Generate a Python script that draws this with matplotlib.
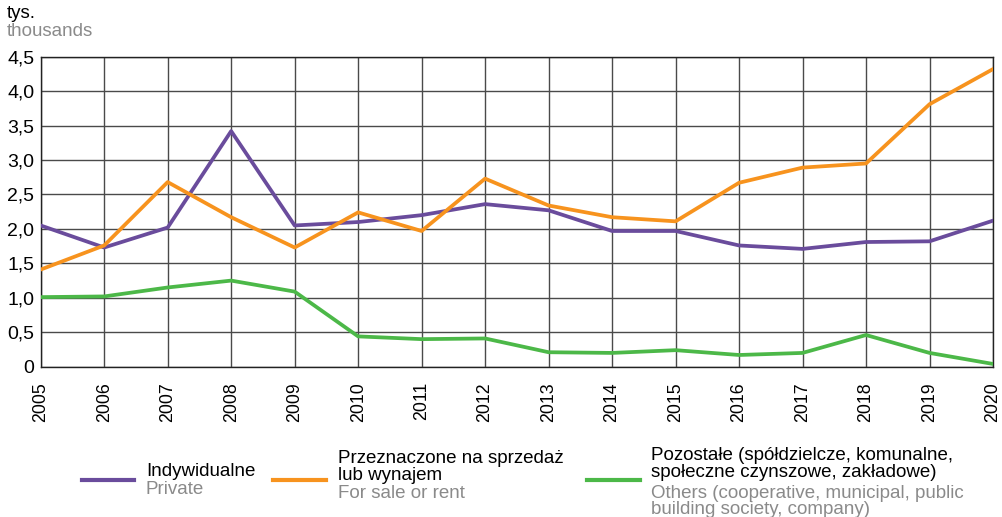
import matplotlib
matplotlib.use('Agg')
import matplotlib.pyplot as plt
from matplotlib.lines import Line2D

years = list(range(2005, 2021))
individual = [2.05, 1.73, 2.02, 3.42, 2.05, 2.10, 2.20, 2.36, 2.27, 1.97, 1.97, 1.76, 1.71, 1.81, 1.82, 2.12]
for_sale = [1.41, 1.76, 2.68, 2.17, 1.73, 2.24, 1.97, 2.73, 2.34, 2.17, 2.11, 2.67, 2.89, 2.95, 3.81, 4.32]
others = [1.01, 1.02, 1.15, 1.25, 1.09, 0.44, 0.40, 0.41, 0.21, 0.20, 0.24, 0.17, 0.20, 0.46, 0.20, 0.04]

y_ticks = [0, 0.5, 1.0, 1.5, 2.0, 2.5, 3.0, 3.5, 4.0, 4.5]
y_labels = ['0', '0,5', '1,0', '1,5', '2,0', '2,5', '3,0', '3,5', '4,0', '4,5']

purple = '#6a4c9c'
orange = '#f7931e'
green = '#4cb848'
grey_txt = '#8a8a8a'
fs = 13.5

plt.rcParams['font.family'] = ['Liberation Sans', 'DejaVu Sans']

W, H = 1003, 517
fig = plt.figure(figsize=(W / 100, H / 100), dpi=100)
ax = fig.add_axes([40.7 / W, 1 - 366.7 / H, (993 - 40.7) / W, (366.7 - 56.7) / H])

ax.plot(years, individual, color=purple, lw=2.7, zorder=3)
ax.plot(years, for_sale, color=orange, lw=2.7, zorder=3)
ax.plot(years, others, color=green, lw=2.7, zorder=3)

ax.set_xlim(2005, 2020)
ax.set_ylim(0, 4.5)
ax.set_xticks(years)
ax.set_xticklabels([str(y) for y in years], rotation=90, fontsize=12.8)
ax.set_yticks(y_ticks)
ax.set_yticklabels(y_labels, fontsize=14)
ax.tick_params(axis='x', length=0, pad=11)
ax.tick_params(axis='y', length=0, pad=4.5)
ax.grid(True, color='#4a4a4a', lw=1)
for s in ax.spines.values():
    s.set_color('#222222')
    s.set_linewidth(1)

# unit label
fig.text(7 / W, 1 - 18 / H, 'tys.', fontsize=fs, va='baseline', ha='left')
fig.text(7 / W, 1 - 36 / H, 'thousands', fontsize=fs, va='baseline', ha='left', color=grey_txt)

# legend, drawn by hand (two-language labels)
def legend_item(x0, x1, tx, col, lines):
    fig.add_artist(Line2D([x0 / W, x1 / W], [1 - 480 / H, 1 - 480 / H], color=col, lw=3))
    for text, y, c in lines:
        fig.text(tx / W, 1 - y / H, text, fontsize=fs, va='baseline', ha='left', color=c)

legend_item(82, 134, 146, purple, [('Indywidualne', 476, 'black'),
                                   ('Private', 494, grey_txt)])
legend_item(273, 326, 338, orange, [('Przeznaczone na sprzedaż', 463, 'black'),
                                    ('lub wynajem', 479.5, 'black'),
                                    ('For sale or rent', 497.5, grey_txt)])
legend_item(587, 640, 651.5, green, [('Pozostałe (spółdzielcze, komunalne,', 460.5, 'black'),
                                     ('społeczne czynszowe, zakładowe)', 477, 'black'),
                                     ('Others (cooperative, municipal, public', 498, grey_txt),
                                     ('building society, company)', 514.5, grey_txt)])

fig.savefig('out.png', dpi=100)
